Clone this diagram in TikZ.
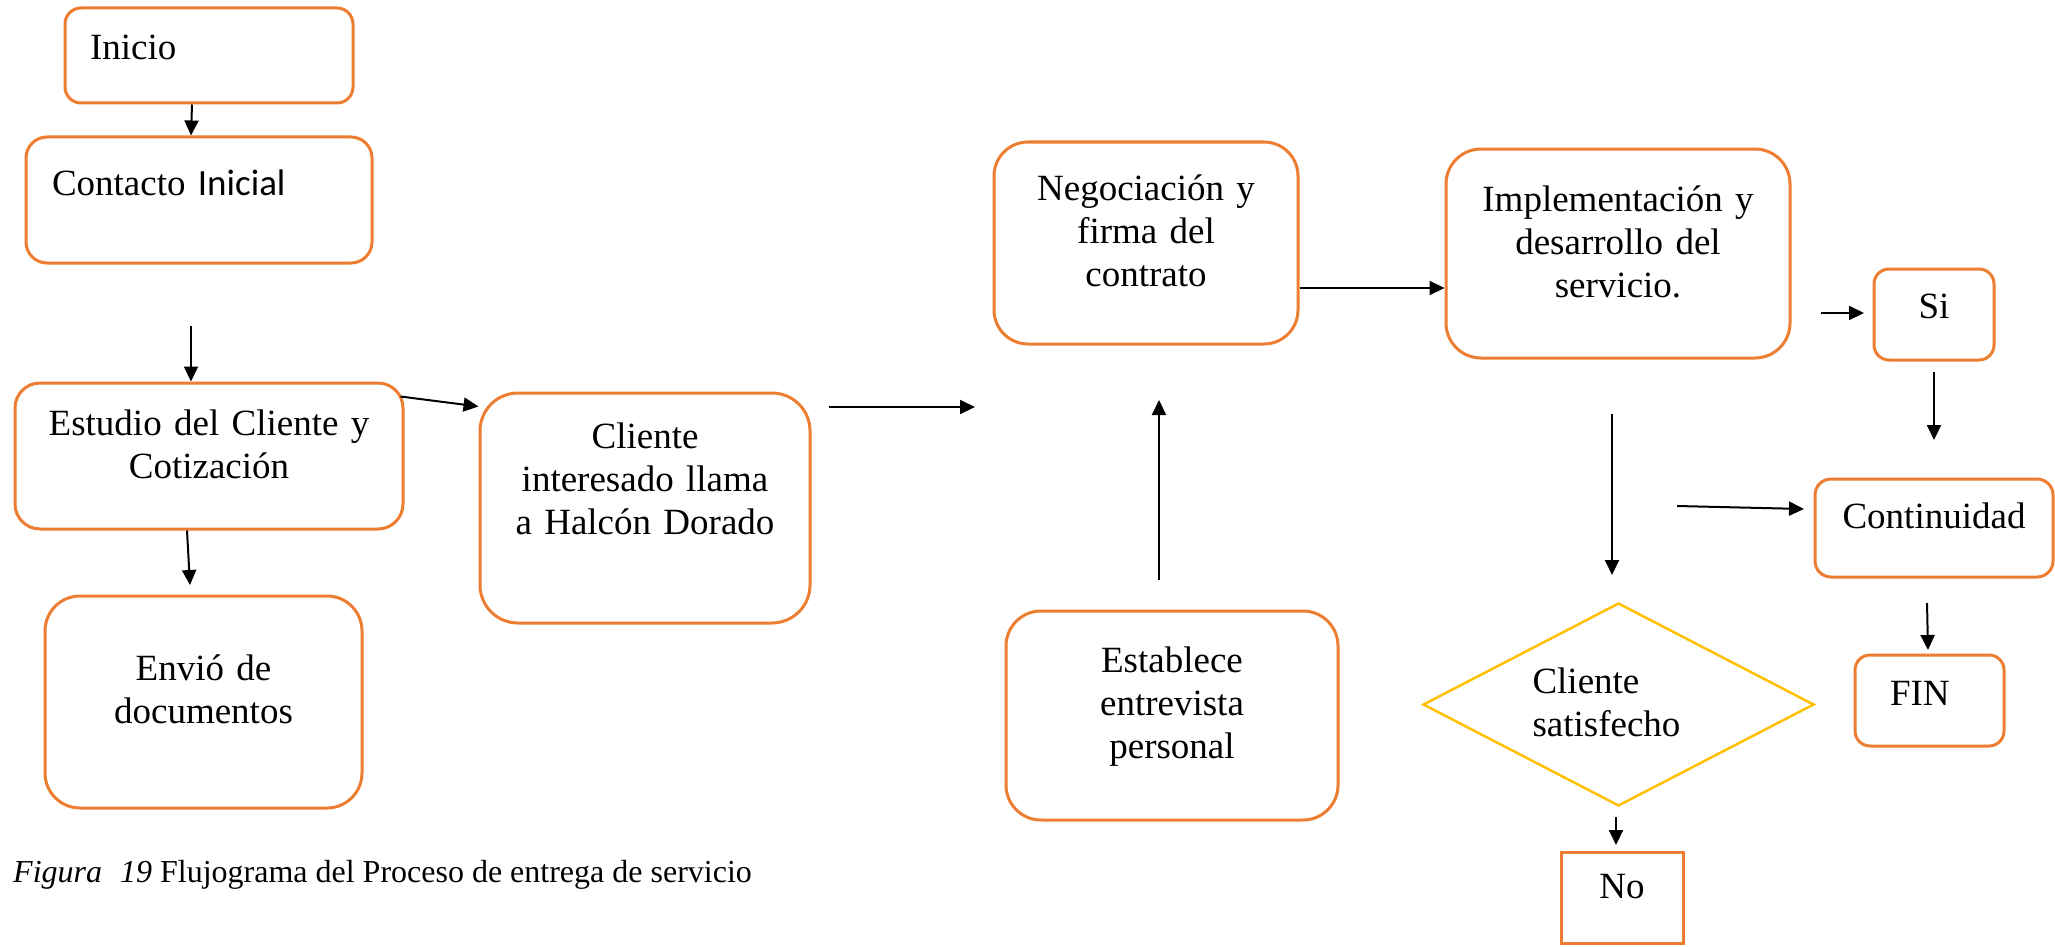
\documentclass[tikz,border=0pt]{standalone}
\usepackage{fontspec}
\setmainfont{Liberation Serif}
\newfontfamily\calibrifont{Carlito}
\usetikzlibrary{arrows.meta,shapes.geometric}
\definecolor{boxorange}{HTML}{ED7D31}
\definecolor{diayellow}{HTML}{FFC000}
\tikzset{
  box/.style={draw=boxorange, line width=3pt, rounded corners=#1, inner sep=0pt,
    text height=30pt, font=\fontsize{37}{43}\selectfont},
  box/.default=16pt,
  arr/.style={-{Triangle[length=15pt,width=14pt]}, line width=2pt},
}

\begin{document}
\begin{tikzpicture}[x=1pt,y=-1pt]
		\useasboundingbox (0,0) rectangle (2055,947);

		\node[box, minimum width=288pt, minimum height=95pt, text width=238pt, align=left, text depth=21pt] (inicio) at (209,55.5) {Inicio};
		\node[box=21pt, minimum width=346pt, minimum height=126pt, text width=294pt, align=left, text depth=40pt] (contacto) at (199,200) {Contacto {\calibrifont Inicial}};
		\node[box=25pt, minimum width=388pt, minimum height=146pt, text width=370pt, align=center, text depth=72pt] (estudio) at (209,456) {Estudio del Cliente y\\Cotización};
		\node[box=35pt, minimum width=317pt, minimum height=212pt, text width=300pt, align=center, text depth=74pt] (envio) at (203.5,702) {Envió de\\documentos};
		\node[box=38pt, minimum width=330pt, minimum height=230pt, text width=310pt, align=center, text depth=150pt] (cliente) at (645,508) {Cliente\\interesado llama\\a Halcón Dorado};
		\node[box=34pt, minimum width=304pt, minimum height=202pt, text width=290pt, align=center, text depth=116pt] (negociacion) at (1146,243) {Negociación y\\firma del\\contrato};
		\node[box=35pt, minimum width=332pt, minimum height=209pt, text width=310pt, align=center, text depth=117pt] (establece) at (1172,715.5) {Establece\\entrevista\\personal};
		\node[box=35pt, minimum width=344pt, minimum height=209pt, text width=320pt, align=center, text depth=115pt] (implementacion) at (1618,253.5) {Implementación y\\desarrollo del\\servicio.};
		\node[box=15pt, minimum width=120pt, minimum height=91pt, text width=100pt, align=center, text depth=23pt] (si) at (1934,314.5) {Si};
		\node[box, minimum width=238pt, minimum height=98pt, text width=220pt, align=center, text depth=30pt] (continuidad) at (1934,528) {Continuidad};
		\node[box=15pt, minimum width=149pt, minimum height=91pt, text width=79pt, align=left, text depth=21pt] (fin) at (1929.5,700.5) {FIN};
		\node[diamond, draw=diayellow, line width=2.5pt, shape aspect=2, inner sep=0pt, minimum width=391pt, minimum height=203pt,
			text width=172pt, align=left, text height=30pt, text depth=53pt, font=\fontsize{37}{43}\selectfont] (satisfecho) at (1618.5,704.5) {Cliente\\satisfecho};
		\node[box=0pt, minimum width=122pt, minimum height=91pt, text width=100pt, align=center, text depth=29pt] (no) at (1622,897.5) {No};
		\node[anchor=base west, inner sep=0pt, font=\fontsize{32}{38}\selectfont] (pie) at (13,882) {\textit{Figura\hspace{18pt}19} Flujograma del Proceso de entrega de servicio};

		\coordinate (estudio in) at (191,326);
		\coordinate (envio in) at (190,585);
		\coordinate (llamada out) at (829,407);
		\coordinate (llamada in) at (975,407);
		\coordinate (entrevista out) at (1159,580);
		\coordinate (firma in) at (1159,400);
		\coordinate (servicio si) at (1821,313);
		\coordinate (si in) at (1864,313);
		\coordinate (si out) at (1934,372);
		\coordinate (continuidad in) at (1934,440);
		\coordinate (servicio out) at (1612,414);
		\coordinate (satisfecho in) at (1612,575);
		\coordinate (servicio cont) at (1677,506);
		\coordinate (cont in) at (1804,509);
		\coordinate (continuidad out) at (1927,603);
		\coordinate (fin in) at (1928,650);
		\coordinate (satisfecho out) at (1616,817);
		\coordinate (no in) at (1616,845);

		\draw[arr] ([xshift=-17pt]inicio.south) -- ([xshift=-8pt]contacto.north);
		\draw[arr] (estudio in) -- ([xshift=-18pt]estudio.north);
		\draw[arr] ([xshift=-22pt]estudio.south) -- (envio in);
		\draw[arr] ([xshift=-4pt,yshift=-15pt]estudio.north east) -- ([yshift=-15pt]cliente.north west);
		\draw[arr] (llamada out) -- (llamada in);
		\draw[arr] (entrevista out) -- (firma in);
		\draw[arr] ([yshift=-45pt]negociacion.east) -- ([yshift=-45pt]negociacion.east -| implementacion.west);
		\draw[arr] (servicio si) -- (si in);
		\draw[arr] (si out) -- (continuidad in);
		\draw[arr] (servicio out) -- (satisfecho in);
		\draw[arr] (servicio cont) -- (cont in);
		\draw[arr] (continuidad out) -- (fin in);
		\draw[arr] (satisfecho out) -- (no in);
\end{tikzpicture}
\end{document}
